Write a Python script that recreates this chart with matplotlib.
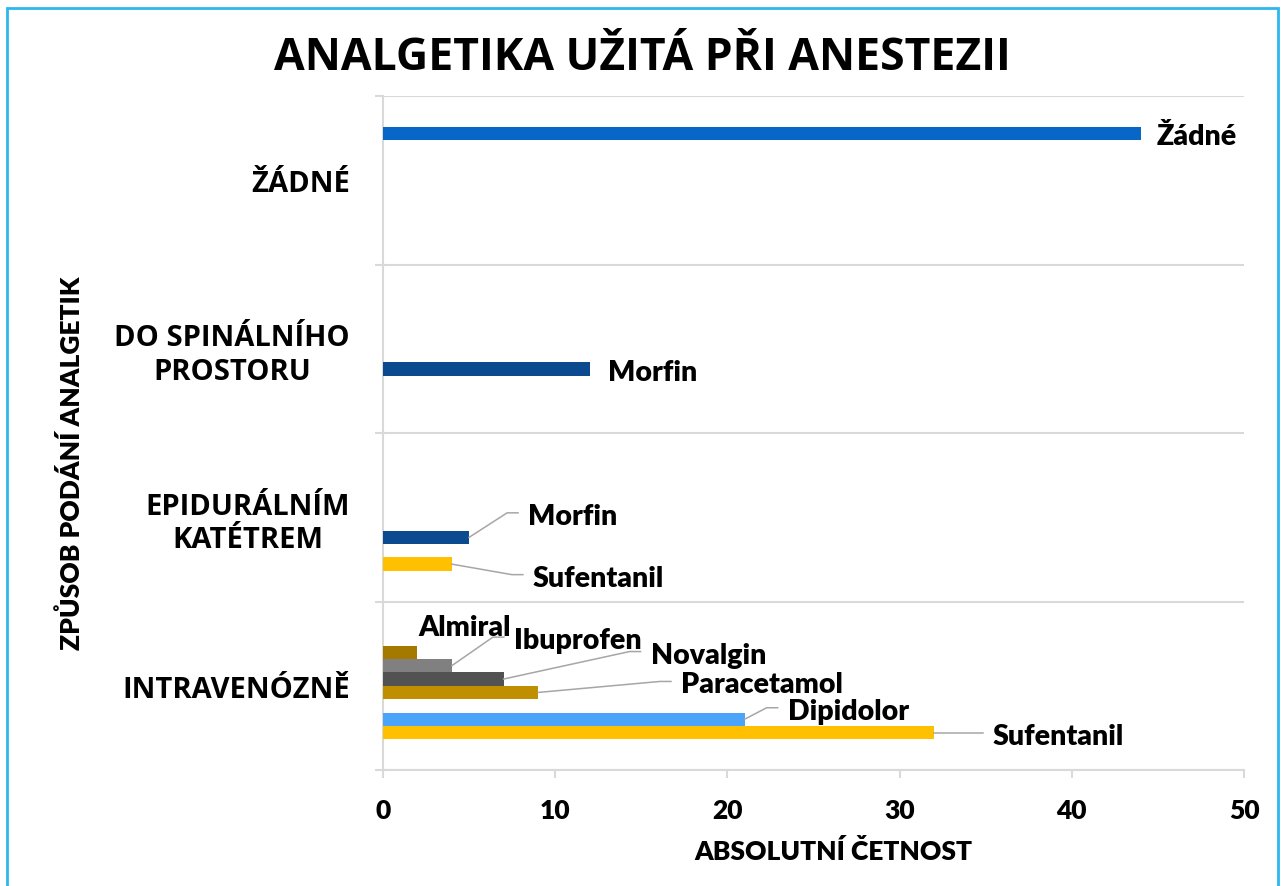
import numpy as np
import matplotlib.pyplot as plt
from matplotlib.patches import Rectangle
from matplotlib.transforms import IdentityTransform

# ---- data ----
categories = ['INTRAVENÓZNĚ', 'EPIDURÁLNÍM\nKATÉTREM', 'DO SPINÁLNÍHO\nPROSTORU', 'ŽÁDNÉ']
series = ['Sufentanil', 'Dipidolor', 'Morfin', 'Paracetamol', 'Novalgin', 'Ibuprofen', 'Almiral', 'Žádné']

sufentanil = [32, 4, 0, 0]
dipidolor = [21, 0, 0, 0]
morfin = [0, 5, 12, 0]
paracetamol = [9, 0, 0, 0]
novalgin = [7, 0, 0, 0]
ibuprofen = [4, 0, 0, 0]
almiral = [2, 0, 0, 0]
zadne = [0, 0, 0, 44]

values = [sufentanil, dipidolor, morfin, paracetamol, novalgin, ibuprofen, almiral, zadne]
colors = ['#FFC000', '#4BA3FA', '#0B4A8E', '#BF8F00', '#525252', '#808080', '#A57800', '#0866C6']

# label placement (pixels from bar end: dx, dy downward, leader line)
label_pos = {
    (3, 7): (16, 0, False),
    (2, 2): (18, 0, False),
    (1, 2): (59, -24.5, True),
    (1, 0): (81, 10.5, True),
    (0, 6): (1, -28.5, False),
    (0, 5): (62, -28.5, True),
    (0, 4): (147, -27.5, True),
    (0, 3): (143, -11, True),
    (0, 1): (43, -11.5, True),
    (0, 0): (59, 0, True),
}

W, H = 1281, 887
fig = plt.figure(figsize=(W / 100, H / 100), dpi=100)
ax = fig.add_axes([383 / W, 1 - 771 / H, (1244 - 383) / W, (771 - 97) / H])

lato = ['Lato', 'DejaVu Sans']
label_font = dict(family=lato, fontweight='heavy', fontsize=20.5)
axis_font = dict(family=lato, fontweight='heavy', fontsize=19)
grid_col = '#D9D9D9'

n = len(series)
h = 13.4 / 168.5
ypos = np.arange(len(categories))

for k, (name, vals, col) in enumerate(zip(series, values, colors)):
    y = ypos + (k - (n - 1) / 2) * h
    for i in range(len(categories)):
        if vals[i] > 0:
            ax.barh(y[i], vals[i], height=h, color=col, linewidth=0, zorder=3)

ax.set_xlim(0, 50)
ax.set_ylim(-0.5, len(categories) - 0.5)

# axes styling
for s in ['top', 'right']:
    ax.spines[s].set_visible(False)
for s in ['left', 'bottom']:
    ax.spines[s].set_color(grid_col)
    ax.spines[s].set_linewidth(1.5)

ax.set_xticks(np.arange(0, 51, 10))
ax.tick_params(axis='x', length=6, width=1.5, color=grid_col, pad=14)
for t in ax.get_xticklabels():
    t.set(**axis_font)

ax.set_yticks(ypos)
ax.set_yticklabels(categories)
ax.set_yticks(np.arange(-0.5, len(categories), 1), minor=True)
ax.tick_params(axis='y', which='major', length=0, pad=24)
ax.tick_params(axis='y', which='minor', length=6, width=1.5, color=grid_col)
for t in ax.get_yticklabels():
    t.set(family=['Open Sans', 'DejaVu Sans'], fontweight='bold', fontsize=21,
          ha='right', multialignment='center', linespacing=1.2)
ax.grid(axis='y', which='minor', color=grid_col, linewidth=1.5, zorder=0)
ax.set_axisbelow(True)

ax.set_xlabel('ABSOLUTNÍ ČETNOST', va='center', **axis_font)
ax.xaxis.set_label_coords((833.5 - 383) / 861, -(852 - 771) / 674)
ax.set_ylabel('ZPŮSOB PODÁNÍ ANALGETIK', ha='center', va='center', **axis_font)
ax.yaxis.set_label_coords((71 - 383) / 861, 1 - (463.5 - 97) / 674)

fig.suptitle('ANALGETIKA UŽITÁ PŘI ANESTEZII', x=642 / W, y=1 - 58 / H, va='center',
             family=['Open Sans', 'DejaVu Sans'], fontweight='bold', fontsize=32)

# data labels with leader lines
for (i, k), (dx, dy, leader) in label_pos.items():
    val = values[k][i]
    yb = ypos[i] + (k - (n - 1) / 2) * h
    ax.annotate(series[k], xy=(val, yb), xytext=(dx, -(dy + 11)), textcoords='offset pixels',
                ha='left', va='baseline', **label_font)
    if leader:
        x0, y0 = ax.transData.transform((val, yb))
        tx = x0 + dx
        my = y0 - dy
        ax.plot([x0, tx - 21, tx - 10], [y0, my, my], color='#A6A6A6', linewidth=1.1,
                transform=IdentityTransform(), clip_on=False, zorder=4)

# outer border
fig.patches.append(Rectangle((7 / W, -0.05), 1271 / W, 1.05 - 9 / H, transform=fig.transFigure,
                             fill=False, edgecolor='#2DB7F0', linewidth=2))

fig.savefig('out.png', dpi=100)
